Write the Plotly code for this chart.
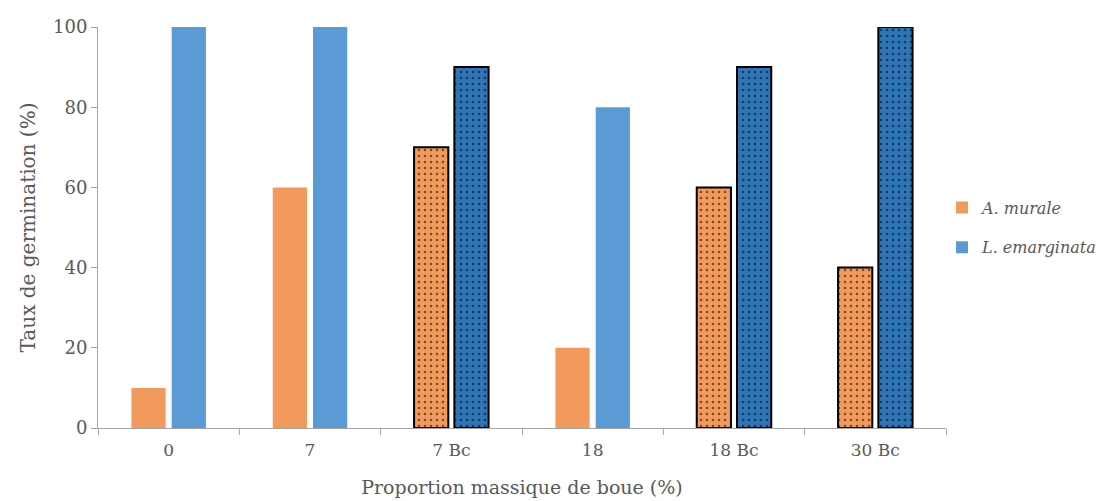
import plotly.graph_objects as go

categories = ["0", "7", "7 Bc", "18", "18 Bc", "30 Bc"]
murale = [10, 60, 70, 20, 60, 40]
emarginata = [100, 100, 90, 80, 90, 100]
patterned = [False, False, True, False, True, True]

ORANGE = "#F29A5B"
BLUE = "#5B9BD5"
BLUE_DARK = "#2E75B6"
FONT = "DejaVu Serif"
TXT = "#595959"

shapes = ["." if p else "" for p in patterned]
lw = [2 if p else 0 for p in patterned]
em_plain = [None if p else v for v, p in zip(emarginata, patterned)]
em_bc = [v if p else None for v, p in zip(emarginata, patterned)]

fig = go.Figure()
fig.add_trace(go.Bar(
    x=categories, y=murale, name="<i>A. murale</i>", legendgroup="a", offsetgroup="a",
    marker=dict(color=ORANGE,
                line=dict(color="black", width=lw),
                pattern=dict(shape=shapes, fgcolor="black",
                             size=6, solidity=0.15, fillmode="overlay")),
))
fig.add_trace(go.Bar(
    x=categories, y=em_plain, name="<i>L. emarginata</i>", legendgroup="b", offsetgroup="b",
    marker=dict(color=BLUE, line=dict(width=0)),
))
fig.add_trace(go.Bar(
    x=categories, y=em_bc, name="<i>L. emarginata</i>", legendgroup="b", offsetgroup="b",
    showlegend=False,
    marker=dict(color=BLUE_DARK,
                line=dict(color="black", width=2),
                pattern=dict(shape=".", fgcolor="black",
                             size=6, solidity=0.15, fillmode="overlay")),
))

# page body has an 8px default margin: figure is sized so it still fits the window
fig.update_layout(
    width=1097, height=493,
    margin=dict(l=90, r=159, t=19, b=73, autoexpand=False),
    plot_bgcolor="white", paper_bgcolor="white",
    barmode="group", bargap=0.43, bargroupgap=0.15,
    font=dict(family=FONT, color=TXT, size=17),
    legend=dict(x=1.0 - 4 / 848, y=0.5, xanchor="left", yanchor="middle",
                font=dict(size=16, family=FONT, color=TXT),
                tracegroupgap=16, itemwidth=30, bgcolor="rgba(0,0,0,0)"),
    showlegend=True,
)
fig.update_xaxes(
    type="category", tickson="boundaries", ticks="outside", ticklen=6,
    tickcolor="#A6A6A6", showline=True, linecolor="#A6A6A6", linewidth=1,
    showgrid=False, tickfont=dict(size=17, family=FONT, color=TXT),
    ticklabelstandoff=7,
    title=dict(text="Proportion massique de boue (%)", font=dict(size=19, family=FONT, color=TXT), standoff=21),
)
fig.update_yaxes(
    range=[0, 100], dtick=20, ticks="outside", ticklen=6,
    tickcolor="#A6A6A6", showline=True, linecolor="#A6A6A6", linewidth=1,
    showgrid=False, zeroline=False, tickfont=dict(size=18, family=FONT, color=TXT),
    title=dict(text="Taux de germination (%)", font=dict(size=20, family=FONT, color=TXT), standoff=12),
)

fig.write_html("out.html")
